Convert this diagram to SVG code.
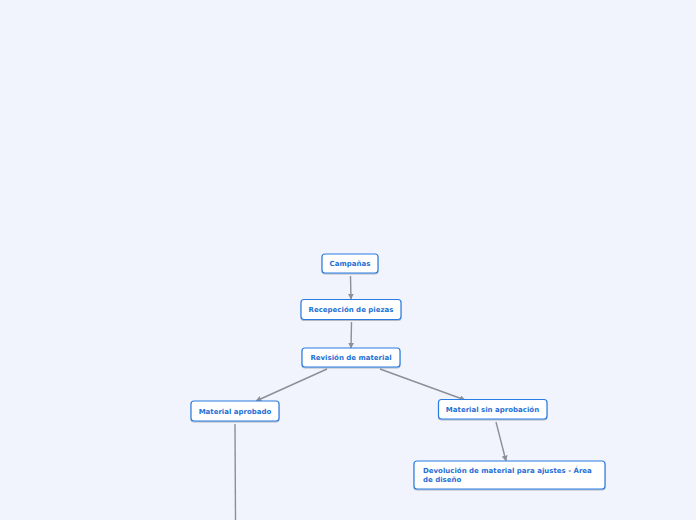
<svg xmlns="http://www.w3.org/2000/svg" width="696" height="520" viewBox="0 0 696 520">
<defs>
<style>
.n rect{fill:#fff;stroke:#2b7de0;stroke-width:1.2;filter:url(#sh)}
.n text{font-family:"DejaVu Sans",Verdana,sans-serif;font-weight:bold;font-size:7px;fill:#1f6fd6}
.c{stroke:#8a8f98;stroke-width:1.4;fill:none}
</style>
<filter id="sh" x="-10%" y="-20%" width="120%" height="160%">
<feDropShadow dx="0" dy="1" stdDeviation="0.6" flood-color="#000" flood-opacity="0.25"/>
</filter>
<marker id="a" viewBox="0 0 10 10" refX="9" refY="5" markerWidth="6" markerHeight="6" orient="auto" markerUnits="userSpaceOnUse">
<path d="M0,0 L10,5 L0,10 z" fill="#8a8f98"/>
</marker>
</defs>
<rect width="696" height="520" fill="#f1f4fd"/>
<g id="connectors">
<path class="c" d="M350.5,276 L351,299" marker-end="url(#a)"/>
<path class="c" d="M351.5,322 L351,348" marker-end="url(#a)"/>
<path class="c" d="M327,369 L256,401" marker-end="url(#a)"/>
<path class="c" d="M380,369 L465,400" marker-end="url(#a)"/>
<path class="c" d="M496,422 L506,461" marker-end="url(#a)"/>
<path class="c" d="M235,424 L235.5,520"/>
</g>
<g id="campanas" class="n">
<rect x="322" y="254" width="56" height="19" rx="3"/>
<text x="350" y="266" text-anchor="middle">Campañas</text>
</g>
<g id="recepcion" class="n">
<rect x="301" y="299.5" width="100" height="20" rx="3"/>
<text x="351" y="312" text-anchor="middle">Recepeción de piezas</text>
</g>
<g id="revision" class="n">
<rect x="302" y="348" width="98" height="19" rx="3"/>
<text x="351" y="360" text-anchor="middle">Revisión de material</text>
</g>
<g id="aprobado" class="n">
<rect x="191" y="401" width="88" height="20" rx="3"/>
<text x="235" y="413.5" text-anchor="middle">Material aprobado</text>
</g>
<g id="sin-aprobacion" class="n">
<rect x="438.5" y="399.5" width="108.5" height="19.5" rx="3"/>
<text x="492.5" y="412" text-anchor="middle">Material sin aprobación</text>
</g>
<g id="devolucion" class="n">
<rect x="414" y="461" width="191" height="28" rx="3"/>
<text x="423" y="472.5">Devolución de material para ajustes - Área</text>
<text x="423" y="481.5">de diseño</text>
</g>
</svg>
